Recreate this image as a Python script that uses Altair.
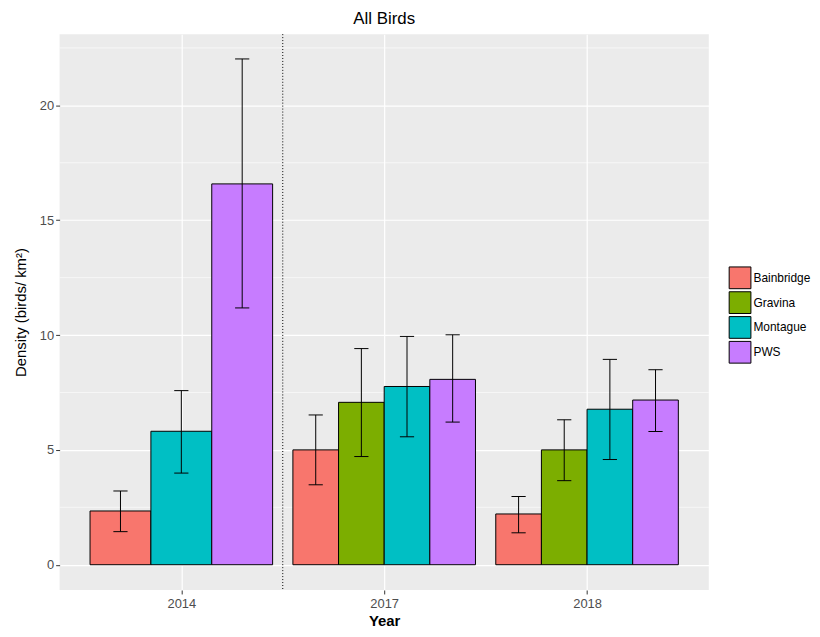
import altair as alt
import pandas as pd

# ---- data ----
years = ["2014", "2017", "2018"]
sites = ["Bainbridge", "Gravina", "Montague", "PWS"]
colors = ["#F8766D", "#7CAE00", "#00BFC4", "#C77CFF"]

bar_year = ["2014", "2014", "2014", "2017", "2017", "2017", "2017", "2018", "2018", "2018", "2018"]
bar_site = ["Bainbridge", "Montague", "PWS",
            "Bainbridge", "Gravina", "Montague", "PWS",
            "Bainbridge", "Gravina", "Montague", "PWS"]
density = [2.34, 5.81, 16.58, 5.0, 7.07, 7.76, 8.07, 2.21, 5.0, 6.77, 7.17]
lower = [1.44, 3.99, 11.18, 3.48, 4.71, 5.57, 6.21, 1.39, 3.66, 4.58, 5.8]
upper = [3.21, 7.58, 22.02, 6.52, 9.41, 9.94, 10.01, 2.97, 6.31, 8.94, 8.49]

y_ticks = [0, 5, 10, 15, 20]
y_minor = [2.5, 7.5, 12.5, 17.5, 22.5]
divider = [0.5]

# ---- dodge positions (ggplot position_dodge, width 0.9) ----
DODGE = 0.9
CAP = 0.035
rows = []
for yr in years:
    idx = [i for i, v in enumerate(bar_year) if v == yr]
    n = len(idx)
    xi = years.index(yr)
    w = DODGE / n
    for k, i in enumerate(idx):
        x0 = xi - DODGE / 2 + k * w
        c = x0 + w / 2
        rows.append(dict(year=yr, site=bar_site[i], density=density[i],
                         lower=lower[i], upper=upper[i],
                         x0=x0, x1=x0 + w, xc=c, cl=c - CAP, cr=c + CAP))
df = pd.DataFrame(rows)

xscale = alt.Scale(domain=[-0.6, 2.6], nice=False, zero=False)
yscale = alt.Scale(domain=[-1.1, 23.1], nice=False, zero=False)

label_expr = " : ".join(f"datum.value == {i} ? '{y}'" for i, y in enumerate(years)) + " : ''"

xaxis = alt.Axis(values=list(range(len(years))), labelExpr=label_expr, title="Year",
                 grid=True, gridColor="white", gridWidth=1.2, domain=False,
                 tickColor="#333333", tickSize=4, labelColor="#4D4D4D",
                 labelFontSize=13, labelPadding=4, titleFontSize=15,
                 titleFontWeight="bold", titleColor="black", titlePadding=3,
                 labelFont="Liberation Sans", titleFont="Liberation Sans")
yaxis = alt.Axis(values=y_ticks, title="Density (birds/ km²)",
                 grid=True, gridColor="white", gridWidth=1.2, domain=False,
                 tickColor="#333333", tickSize=4, labelColor="#4D4D4D",
                 labelFontSize=13, labelPadding=2, titleFontSize=15,
                 titleFontWeight="normal", titleColor="black", titlePadding=11,
                 labelFont="Liberation Sans", titleFont="Liberation Sans")

minor = alt.Chart(pd.DataFrame({"v": y_minor})).mark_rule(
    color="white", strokeWidth=0.6
).encode(y=alt.Y("v:Q", scale=yscale, axis=yaxis))

bars = alt.Chart(df).mark_bar(stroke="black", strokeWidth=1).encode(
    x=alt.X("x0:Q", scale=xscale, axis=xaxis),
    x2="x1:Q",
    y=alt.Y("density:Q", scale=yscale, axis=yaxis),
    y2=alt.datum(0),
    fill=alt.Fill("site:N", scale=alt.Scale(domain=sites, range=colors),
                  legend=alt.Legend(title=None, orient="none", legendX=674, legendY=234,
                                    symbolType="square", symbolSize=480,
                                    symbolStrokeColor="black", symbolStrokeWidth=1,
                                    symbolOpacity=1,
                                    labelFontSize=12, labelColor="black",
                                    labelFont="Liberation Sans", labelOffset=2,
                                    rowPadding=-5, padding=0)),
)

err = alt.Chart(df).mark_rule(color="black", strokeWidth=1).encode(
    x="xc:Q", y="lower:Q", y2="upper:Q")
cap_lo = alt.Chart(df).mark_rule(color="black", strokeWidth=1).encode(
    x="cl:Q", x2="cr:Q", y="lower:Q")
cap_hi = alt.Chart(df).mark_rule(color="black", strokeWidth=1).encode(
    x="cl:Q", x2="cr:Q", y="upper:Q")

div = alt.Chart(pd.DataFrame({"d": divider})).mark_rule(
    color="black", strokeWidth=1, strokeDash=[1, 2]
).encode(x=alt.X("d:Q", scale=xscale))

chart = alt.layer(minor, bars, err, cap_lo, cap_hi, div).properties(
    width=654, height=560,
    background="white",
    title=alt.Title("All Birds", fontSize=17, fontWeight="normal", color="black",
                    font="Liberation Sans", anchor="middle", offset=6),
    autosize=alt.AutoSizeParams(type="none"),
    padding={"left": 52, "top": 24, "right": 104, "bottom": 42},
).configure_view(fill="#EBEBEB", stroke=None)

chart.save("out.html", embed_options={"renderer": "svg", "actions": False})
